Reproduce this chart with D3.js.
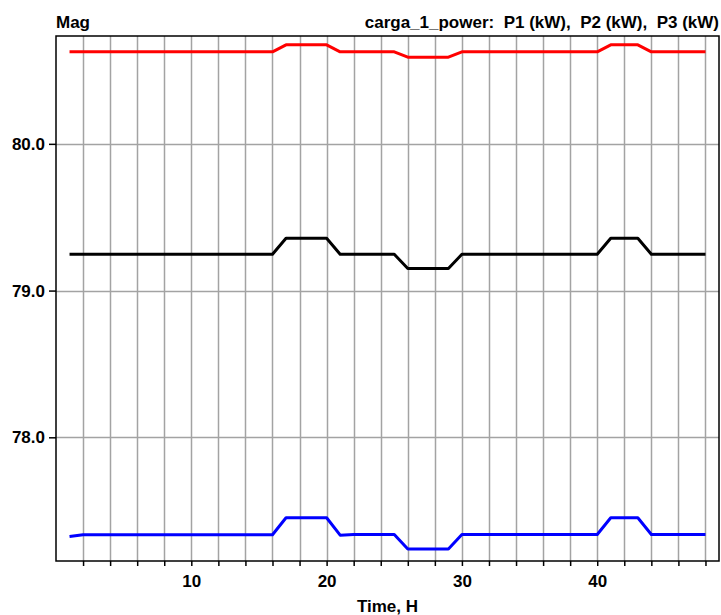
<!DOCTYPE html>
<html>
<head>
<meta charset="utf-8">
<script src="https://cdn.jsdelivr.net/npm/d3@7"></script>
<style>
  html, body { margin: 0; padding: 0; background: #fff; }
  svg text { font-family: "Liberation Sans", Arial, sans-serif; font-weight: bold; fill: #000; }
</style>
</head>
<body>
<svg id="chart" width="721" height="615"></svg>
<script>
// Hourly samples of the three phase powers of load carga_1
const hours = d3.range(1, 49);
const p1 = [
  80.627, 80.627, 80.627, 80.627, 80.627, 80.627, 80.627, 80.627, 80.627, 80.627,
  80.627, 80.627, 80.627, 80.627, 80.627, 80.627, 80.675, 80.675, 80.675, 80.675,
  80.627, 80.627, 80.627, 80.627, 80.627, 80.591, 80.591, 80.591, 80.591, 80.627,
  80.627, 80.627, 80.627, 80.627, 80.627, 80.627, 80.627, 80.627, 80.627, 80.627,
  80.675, 80.675, 80.675, 80.627, 80.627, 80.627, 80.627, 80.627
];
const p2 = [
  79.247, 79.247, 79.247, 79.247, 79.247, 79.247, 79.247, 79.247, 79.247, 79.247,
  79.247, 79.247, 79.247, 79.247, 79.247, 79.247, 79.357, 79.357, 79.357, 79.357,
  79.247, 79.247, 79.247, 79.247, 79.247, 79.151, 79.151, 79.151, 79.151, 79.247,
  79.247, 79.247, 79.247, 79.247, 79.247, 79.247, 79.247, 79.247, 79.247, 79.247,
  79.357, 79.357, 79.357, 79.247, 79.247, 79.247, 79.247, 79.247
];
const p3 = [
  77.324, 77.336, 77.336, 77.336, 77.336, 77.336, 77.336, 77.336, 77.336, 77.336,
  77.336, 77.336, 77.336, 77.336, 77.336, 77.336, 77.452, 77.452, 77.452, 77.452,
  77.333, 77.338, 77.338, 77.338, 77.338, 77.239, 77.239, 77.239, 77.239, 77.338,
  77.338, 77.338, 77.338, 77.338, 77.338, 77.338, 77.338, 77.338, 77.338, 77.338,
  77.452, 77.452, 77.452, 77.338, 77.338, 77.338, 77.338, 77.338
];
const seriesNames = ["P1 (kW)", "P2 (kW)", "P3 (kW)"];
const seriesColors = ["#ff0000", "#000000", "#0000ff"];
const xTicks = d3.range(2, 49, 2);
const xLabels = [10, 20, 30, 40];
const yTicks = [78.0, 79.0, 80.0];

const svg = d3.select("#chart");
const plotL = 56, plotR = 719, plotT = 36, plotB = 561;

const x = d3.scaleLinear().domain([0, 49]).range([plotL, plotR]);
const y = d3.scaleLinear().domain([77.157, 80.735]).range([plotB, plotT]);

// grid
const grid = svg.append("g").attr("stroke", "#a3a3a3").attr("stroke-width", 1.5);
grid.selectAll("line.v").data(xTicks).join("line")
  .attr("class", "v")
  .attr("x1", d => Math.round(x(d)) + 0.5).attr("x2", d => Math.round(x(d)) + 0.5)
  .attr("y1", plotT).attr("y2", plotB);
grid.selectAll("line.h").data(yTicks).join("line")
  .attr("class", "h")
  .attr("x1", plotL).attr("x2", plotR)
  .attr("y1", d => Math.round(y(d)) + 0.5).attr("y2", d => Math.round(y(d)) + 0.5);

// x axis
const xAxis = d3.axisBottom(x).tickValues(xTicks).tickSize(5)
  .tickFormat(d => xLabels.includes(d) ? d : "");
const gx = svg.append("g").attr("transform", `translate(0,${plotB})`).call(xAxis);
gx.select(".domain").remove();
gx.selectAll(".tick line").attr("stroke", "#000").attr("stroke-width", 1.5);
gx.selectAll(".tick text").attr("y", 14).attr("dy", "0.71em")
  .style("font-size", "17px").style("font-family", "Liberation Sans, Arial, sans-serif")
  .style("font-weight", "bold").attr("fill", "#000");

// y axis
const yAxis = d3.axisLeft(y).tickValues(yTicks).tickSize(7).tickFormat(d3.format(".1f"));
const gy = svg.append("g").attr("transform", `translate(${plotL},0)`).call(yAxis);
gy.select(".domain").remove();
gy.selectAll(".tick line").attr("stroke", "#000").attr("stroke-width", 1.5);
gy.selectAll(".tick text").attr("x", -11)
  .style("font-size", "17px").style("font-family", "Liberation Sans, Arial, sans-serif")
  .style("font-weight", "bold").attr("fill", "#000");

// frame
svg.append("rect").attr("x", plotL).attr("y", plotT)
  .attr("width", plotR - plotL).attr("height", plotB - plotT)
  .attr("fill", "none").attr("stroke", "#000").attr("stroke-width", 1.5);

// series
const line = d3.line().x((d, i) => x(hours[i])).y(d => y(d));
[p1, p2, p3].forEach((vals, k) => {
  svg.append("path").datum(vals)
    .attr("d", line)
    .attr("fill", "none")
    .attr("stroke", seriesColors[k])
    .attr("stroke-width", 3)
    .attr("stroke-linejoin", "round");
});

// titles
svg.append("text").attr("x", plotL).attr("y", 28)
  .style("font-size", "17px").text("Mag");
svg.append("text").attr("x", plotR).attr("y", 28).attr("text-anchor", "end")
  .style("font-size", "17px").attr("xml:space", "preserve")
  .text("carga_1_power:  " + seriesNames.join(",  "));
svg.append("text").attr("x", (plotL + plotR) / 2).attr("y", 612).attr("text-anchor", "middle")
  .style("font-size", "17px").text("Time, H");
</script>
</body>
</html>
